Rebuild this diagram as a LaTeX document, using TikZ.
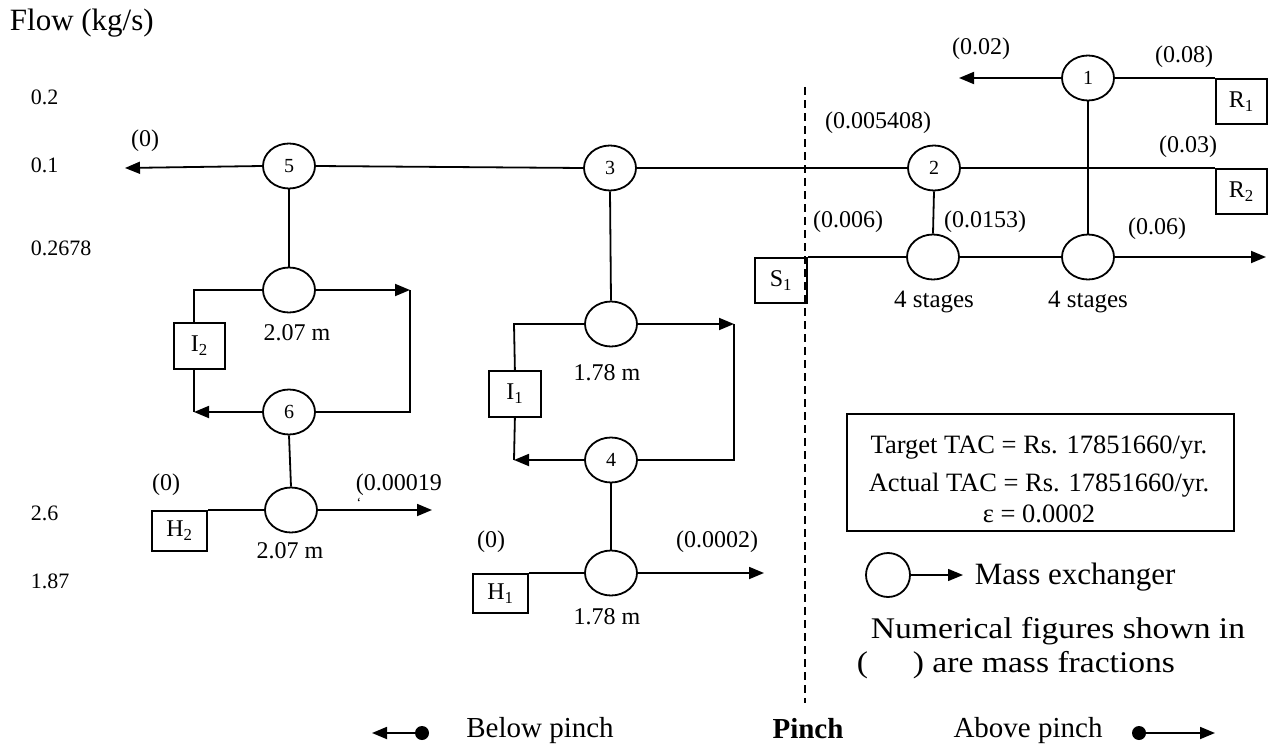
\documentclass[tikz,border=0pt]{standalone}
\usepackage{fontspec}
\usepackage{graphicx}
\setmainfont{Liberation Serif}
\usetikzlibrary{arrows.meta,shapes.geometric}
\begin{document}
\begin{tikzpicture}[x=1bp,y=-1bp,line width=1.8bp,
  mx/.style={draw,ellipse,minimum width=52bp,minimum height=45bp,inner sep=0pt,font=\fontsize{20bp}{22bp}\selectfont},
  ubox/.style={draw,anchor=north west,minimum width=52bp,minimum height=45bp,inner sep=0pt,font=\fontsize{24bp}{26bp}\selectfont},
  frac/.style={font=\fontsize{24bp}{26bp}\selectfont,inner sep=0pt},
  rowlab/.style={font=\fontsize{22bp}{24bp}\selectfont,inner sep=0pt,anchor=west},
  big/.style={font=\fontsize{31bp}{34bp}\selectfont,inner sep=0pt},
  leg/.style={font=\fontsize{29bp}{32bp}\selectfont,inner sep=0pt},
  note/.style={font=\fontsize{30bp}{32bp}\selectfont,inner sep=0pt,anchor=west},
  arr/.style={-{Triangle[length=15bp,width=12bp]}},
  pinchline/.style={line width=1.3bp,dash pattern=on 8bp off 5bp},
  dot/.style={circle,fill=black,inner sep=0pt,minimum size=14bp},
]
\useasboundingbox (0,0) rectangle (1276,748);

% ---------- row labels ----------
\node[big,anchor=west] (flow) at (9,23) {Flow (kg/s)};
\node[rowlab] (r02) at (30,97) {0.2};
\node[rowlab] (r01) at (30,165) {0.1};
\node[rowlab] (r0268) at (30,248) {0.2678};
\node[rowlab] (r26) at (30,513) {2.6};
\node[rowlab] (r187) at (30,581) {1.87};

% ---------- pinch ----------
\coordinate (ptop) at (805,87);
\coordinate (pbot) at (805,703);
\draw[pinchline] (ptop) -- (pbot);

% ---------- rich streams ----------
\node[mx] (c1) at (1088,78) {1};
\node[ubox,minimum width=51bp] (R1) at (1215,78) {R\textsubscript{1}};
\coordinate (r1end) at (959,78);
\draw (R1.north west) -- (c1.east);
\draw[arr] (c1.west) -- (r1end);

\node[mx] (c2) at (934,168) {2};
\node[mx] (c3) at (610,168) {3};
\node[mx] (c5) at (289,166) {5};
\node[ubox,minimum width=51bp] (R2) at (1215,168) {R\textsubscript{2}};
\coordinate (r2end) at (125,168);
\draw (R2.north west) -- (c2.east);
\draw (c2.west) -- (c3.east);
\draw (c3.west) -- (c5.east);
\draw[arr] (c5.west) -- (r2end);

% ---------- S1 stream ----------
\node[ubox] (S1) at (754,257) {S\textsubscript{1}};
\node[mx] (sa) at (933,257) {};
\node[mx] (sb) at (1088,257) {};
\coordinate (s1end) at (1266,257);
\draw (S1.north east) -- (sa.west);
\draw (sa.east) -- (sb.west);
\draw[arr] (sb.east) -- (s1end);
\draw (c1.south) -- (sb.north);
\draw (c2.south) -- (sa.north);

% ---------- left part (I2, H2) ----------
\node[mx] (e5) at (289,290) {};
\node[mx] (c6) at (289,412) {6};
\node[ubox,minimum width=51bp,minimum height=46bp] (I2) at (173,322) {I\textsubscript{2}};
\coordinate (l2a) at (194,290);
\coordinate (l2b) at (194,412);
\coordinate (l2c) at (410,290);
\coordinate (l2d) at (410,412);
\draw (c5.south) -- (e5.north);
\draw (e5.west) -- (l2a) -- (l2a |- I2.north);
\draw (l2a |- I2.south) -- (l2b);
\draw[arr] (c6.west) -- (l2b);
\draw[arr] (e5.east) -- (l2c);
\draw (l2c) -- (l2d) -- (c6.east);

\node[mx] (h2c) at (291,510) {};
\node[ubox,minimum width=55bp,minimum height=40bp] (H2) at (151,510) {H\textsubscript{2}};
\coordinate (h2end) at (432,510);
\draw (c6.south) -- (h2c.north);
\draw (H2.north east) -- (h2c.west);
\draw[arr] (h2c.east) -- (h2end);

% ---------- middle part (I1, H1) ----------
\node[mx] (e3) at (611,324) {};
\node[mx] (c4) at (611,460) {4};
\node[ubox,minimum width=52bp,minimum height=46bp] (I1) at (488,370) {I\textsubscript{1}};
\coordinate (l1a) at (514,324);
\coordinate (l1b) at (514,460);
\coordinate (l1c) at (734,324);
\coordinate (l1d) at (734,460);
\draw (c3.south) -- (e3.north);
\draw (e3.west) -- (l1a) -- (I1.north);
\draw (I1.south) -- (l1b);
\draw[arr] (c4.west) -- (l1b);
\draw[arr] (e3.east) -- (l1c);
\draw (l1c) -- (l1d) -- (c4.east);

\node[mx] (h1c) at (611,573) {};
\node[ubox,minimum width=55bp,minimum height=39bp] (H1) at (472,573) {H\textsubscript{1}};
\coordinate (h1end) at (764,573);
\draw (c4.south) -- (h1c.north);
\draw (H1.north east) -- (h1c.west);
\draw[arr] (h1c.east) -- (h1end);

% ---------- mass fraction labels ----------
\node[frac] at (145,141) {(0)};
\node[frac] at (981,49) {(0.02)};
\node[frac] at (1184,57) {(0.08)};
\node[frac] at (878,123) {(0.005408)};
\node[frac] at (1188,147) {(0.03)};
\node[frac] at (848,222) {(0.006)};
\node[frac] at (985,222) {(0.0153)};
\node[frac] at (1157,229) {(0.06)};
\node[frac] at (166,485) {(0)};
\node[frac,anchor=west] at (355,485) {(0.00019};
\node[font=\fontsize{14bp}{14bp}\selectfont,inner sep=0pt] at (359,503) {\symbol{96}};
\node[frac] at (491,542) {(0)};
\node[frac] at (717,542) {(0.0002)};

% ---------- exchanger sizes ----------
\node[frac] at (297,333) {2.07 m};
\node[frac] at (290,551) {2.07 m};
\node[frac] at (607,373) {1.78 m};
\node[frac] at (607,617) {1.78 m};
\node[frac,font=\fontsize{25bp}{27bp}\selectfont] at (934,302) {4 stages};
\node[frac,font=\fontsize{25bp}{27bp}\selectfont] at (1088,302) {4 stages};

% ---------- TAC box ----------
\node[draw,minimum width=387bp,minimum height=117bp,anchor=north west] (tac) at (846,413) {};
\node[font=\fontsize{26.5bp}{28bp}\selectfont,inner sep=0pt] at (1039,448) {Target TAC = Rs. 17851660/yr.};
\node[font=\fontsize{26.5bp}{28bp}\selectfont,inner sep=0pt] at (1039,485) {Actual TAC = Rs. 17851660/yr.};
\node[font=\fontsize{26.5bp}{28bp}\selectfont,inner sep=0pt] at (1039,514) {ε = 0.0002};

% ---------- legend ----------
\node[draw,ellipse,minimum width=44bp,minimum height=44bp,inner sep=0pt] (lc) at (888,575) {};
\coordinate (la) at (963,575);
\draw[arr,line width=1.4bp] (lc.east) -- (la);
\node[leg,font=\fontsize{31bp}{33bp}\selectfont,anchor=west] at (974,577) {Mass exchanger};
\node[note] at (870,631) {\scalebox{1.12}[1]{Numerical figures shown in}};
\node[note] at (856,665) {\scalebox{1.12}[1]{(\hspace{40bp}) are mass fractions}};

% ---------- bottom ----------
\node[dot] (dl) at (422,733) {};
\coordinate (dla) at (372,733);
\draw[arr] (dl.center) -- (dla);
\node[leg] at (540,731) {Below pinch};
\node[leg,font=\fontsize{29bp}{32bp}\selectfont\bfseries] at (808,729) {Pinch};
\node[leg] at (1028,731) {Above pinch};
\node[dot] (dr) at (1139,733) {};
\coordinate (dra) at (1215,733);
\draw[arr] (dr.center) -- (dra);
\end{tikzpicture}
\end{document}
